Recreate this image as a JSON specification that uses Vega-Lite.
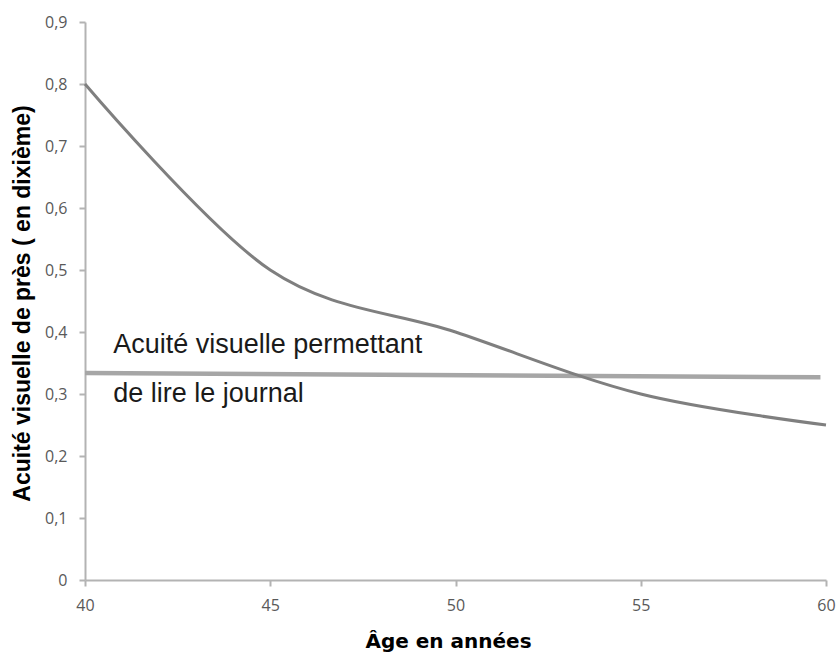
{
  "$schema": "https://vega.github.io/schema/vega-lite/v6.json",
  "width": 741,
  "height": 558,
  "autosize": {"type": "none"},
  "padding": {"left": 85, "top": 22, "right": 12, "bottom": 73},
  "background": "white",
  "config": {
    "view": {"stroke": null},
    "axis": {"grid": false}
  },
  "datasets": {
    "acuite": [
      {"age": 40, "acuite": 0.8},
      {"age": 45, "acuite": 0.5},
      {"age": 50, "acuite": 0.4},
      {"age": 55, "acuite": 0.3},
      {"age": 60, "acuite": 0.25}
    ],
    "seuil": [
      {"age": 40, "acuite": 0.334},
      {"age": 59.85, "acuite": 0.327}
    ],
    "notes": [
      {"age": 40.76, "acuite": 0.366, "texte": "Acuité visuelle permettant"},
      {"age": 40.76, "acuite": 0.287, "texte": "de lire le journal"}
    ]
  },
  "layer": [
    {
      "data": {"name": "seuil"},
      "mark": {"type": "line", "color": "#a6a6a6", "strokeWidth": 4.5, "strokeCap": "butt"},
      "encoding": {
        "x": {
          "field": "age", "type": "quantitative",
          "scale": {"domain": [40, 60], "nice": false, "zero": false},
          "axis": {
            "values": [40, 45, 50, 55, 60],
            "title": "Âge en années",
            "titleFont": "DejaVu Sans",
            "titleFontWeight": "bold",
            "titleFontSize": 20,
            "titleColor": "#000000",
            "titleBaseline": "alphabetic",
            "titleX": 363,
            "titleY": 67,
            "titleAnchor": null,
            "labelFont": "Open Sans",
            "labelFontSize": 16,
            "labelColor": "#595959",
            "labelPadding": 11,
            "labelFlush": false,
            "domainColor": "#b3b3b3",
            "domainWidth": 2,
            "tickColor": "#b3b3b3",
            "tickWidth": 2,
            "tickSize": 6
          }
        },
        "y": {
          "field": "acuite", "type": "quantitative",
          "scale": {"domain": [0, 0.9], "nice": false},
          "axis": {
            "values": [0, 0.1, 0.2, 0.3, 0.4, 0.5, 0.6, 0.7, 0.8, 0.9],
            "labelExpr": "datum.value == 0 ? '0' : replace(format(datum.value, '.1f'), '.', ',')",
            "title": "Acuité visuelle de près  ( en dixième)",
            "titleFont": "Liberation Sans",
            "titleFontWeight": "bold",
            "titleFontSize": 23,
            "titleColor": "#000000",
            "titleAngle": 270,
            "titleBaseline": "alphabetic",
            "titleAlign": "center",
            "titleX": -56,
            "titleY": 281,
            "labelFont": "Open Sans",
            "labelFontSize": 16,
            "labelColor": "#595959",
            "labelPadding": 12,
            "labelFlush": false,
            "domainColor": "#b3b3b3",
            "domainWidth": 2,
            "tickColor": "#b3b3b3",
            "tickWidth": 2,
            "tickSize": 6
          }
        }
      }
    },
    {
      "data": {"name": "acuite"},
      "mark": {"type": "line", "color": "#7f7f7f", "strokeWidth": 3, "interpolate": "cardinal", "tension": 0},
      "encoding": {
        "x": {"field": "age", "type": "quantitative"},
        "y": {"field": "acuite", "type": "quantitative"}
      }
    },
    {
      "data": {"name": "notes"},
      "mark": {"type": "text", "align": "left", "baseline": "alphabetic", "font": "Liberation Sans", "fontSize": 27, "color": "#1a1a1a"},
      "encoding": {
        "x": {"field": "age", "type": "quantitative"},
        "y": {"field": "acuite", "type": "quantitative"},
        "text": {"field": "texte"}
      }
    }
  ]
}
